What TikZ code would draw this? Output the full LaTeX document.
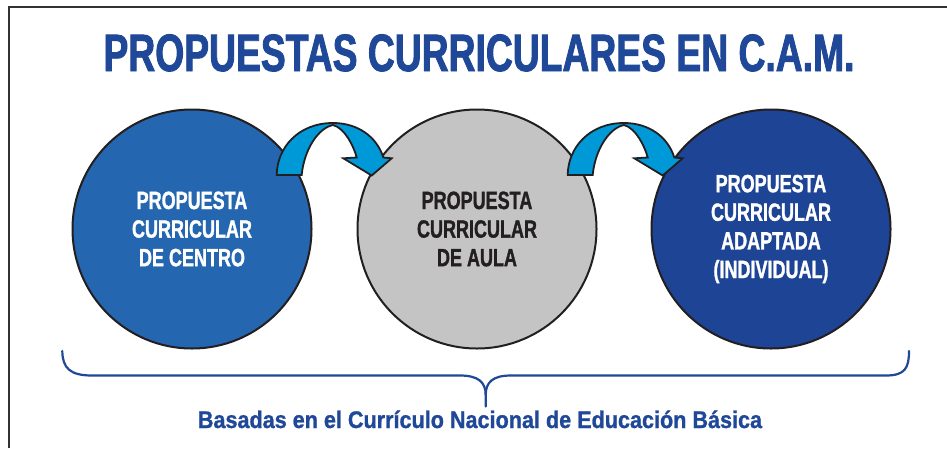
\documentclass[tikz,border=0pt]{standalone}
\usepackage{fontspec}
\newfontfamily\titlefont{Liberation Sans}[FakeStretch=0.71, FakeBold=1.6]
\newfontfamily\circfont{Liberation Sans}[FakeStretch=0.72, FakeBold=1.2]
\newfontfamily\basefont{Liberation Sans}[FakeStretch=0.9, FakeBold=1.0]
\definecolor{titleblue}{RGB}{31,72,152}
\definecolor{circA}{RGB}{37,102,176}
\definecolor{circB}{RGB}{196,196,196}
\definecolor{circC}{RGB}{30,68,150}
\definecolor{arrowcyan}{RGB}{0,153,216}
\definecolor{outline}{RGB}{35,31,32}
\definecolor{framegray}{RGB}{50,50,50}
\tikzset{
  bubble/.style={circle, draw=outline, line width=2pt, minimum size=239pt, inner sep=0pt,
    text=white, align=center, font=\circfont\bfseries\fontsize{25}{28.6}\selectfont},
  arrowstyle/.style={fill=arrowcyan, draw=outline, line width=1.8pt, line join=miter},
  bracestyle/.style={draw=titleblue, line width=2.2pt, line cap=round},
  curvarrow/.pic={
    \path[arrowstyle] (276.7,175) .. controls (277,148) and (298,123) .. (333,123)
      .. controls (358,123) and (377,137) .. (383.3,157.5)
      -- (391.7,158.3) -- (371.7,175.5) -- (343.3,158.3) -- (356.7,157.5)
      .. controls (354,147) and (345,128) .. (333,125)
      .. controls (318,128) and (304,150) .. (301.7,175) -- cycle;
  }
}
\begin{document}
\begin{tikzpicture}[x=1pt,y=-1pt]
\useasboundingbox (0,0) rectangle (947,448);
\fill[white] (0,0) rectangle (947,448);
% frame
\coordinate (fl) at (9,448);
\coordinate (fc) at (9,7);
\coordinate (fr) at (947,7);
\draw[framegray, line width=2.3pt] (fl) -- (fc) -- (fr);
% title
\node[anchor=base, text=titleblue, font=\titlefont\bfseries\fontsize{52.5}{60}\selectfont, inner sep=0pt]
  (title) at (479,71) {PROPUESTAS CURRICULARES EN C.A.M.};
% circles
\node[bubble, fill=circA] (c1) at (192,229) {PROPUESTA\\CURRICULAR\\DE CENTRO};
\node[bubble, fill=circB, text=outline] (c2) at (477,229) {PROPUESTA\\CURRICULAR\\DE AULA};
\node[bubble, fill=circC] (c3) at (771,229) {PROPUESTA\\CURRICULAR\\ADAPTADA\\(INDIVIDUAL)};
% curved arrows
\pic (a1) at (0,0) {curvarrow};
\pic (a2) at (291,0) {curvarrow};
% brace
\coordinate (bl) at (62.3,351);
\coordinate (bm) at (485.7,395);
\coordinate (bt) at (485.7,406.5);
\coordinate (br) at (909,351);
\draw[bracestyle] (bl) .. controls (62.5,368) and (70,375.5) .. (92,375.5) -- (460,375.5)
  .. controls (478,375.5) and (485.7,382) .. (bm) -- (bt);
\draw[bracestyle] (bm) .. controls (485.7,382) and (493,375.5) .. (511,375.5) -- (886,375.5)
  .. controls (905,375.5) and (909,368) .. (br);
% bottom text
\node[anchor=base, text=titleblue, font=\basefont\bfseries\fontsize{24}{28}\selectfont, inner sep=0pt]
  (base) at (480,428) {Basadas en el Currículo Nacional de Educación Básica};
\end{tikzpicture}
\end{document}
